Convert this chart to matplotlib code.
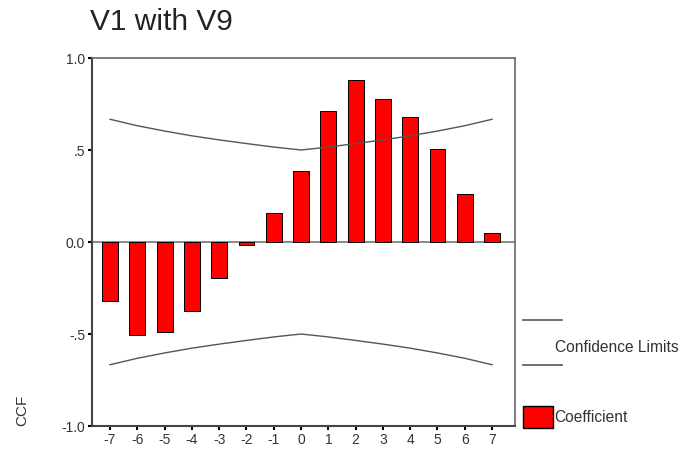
import matplotlib.pyplot as plt
from matplotlib.lines import Line2D
from matplotlib.patches import Rectangle

plt.rcParams['font.family'] = ['Liberation Sans', 'DejaVu Sans']

# lags and cross-correlation coefficients
lags = [-7, -6, -5, -4, -3, -2, -1, 0, 1, 2, 3, 4, 5, 6, 7]
coef = [-0.32, -0.505, -0.49, -0.373, -0.196, -0.015, 0.16, 0.385,
        0.71, 0.88, 0.775, 0.678, 0.507, 0.26, 0.05]
upper = [0.667, 0.632, 0.603, 0.577, 0.555, 0.535, 0.516, 0.5,
         0.516, 0.535, 0.555, 0.577, 0.603, 0.632, 0.667]
lower = [-u for u in upper]
yticks = [-1.0, -0.5, 0.0, 0.5, 1.0]
ylabels = ["-1.0", "-.5", "0.0", ".5", "1.0"]

W, H = 683, 451
fig = plt.figure(figsize=(W / 100, H / 100), dpi=100)
ax = fig.add_axes([92 / W, 25 / H, 423 / W, 368 / H])

ax.bar(lags, coef, width=0.58, color="#ff0000", edgecolor="black", linewidth=0.7, zorder=3)
ax.plot(lags, upper, color="#555555", lw=1.0, zorder=4)
ax.plot(lags, lower, color="#555555", lw=1.0, zorder=4)
ax.axhline(0, color="#777777", lw=1.2, zorder=2)

ax.set_xlim(-7.66, 7.84)
ax.set_ylim(-1.0, 1.0)
ax.set_xticks(lags)
ax.set_xticklabels([str(l) for l in lags])
ax.set_yticks(yticks)
ax.set_yticklabels(ylabels)
ax.tick_params(direction="out", length=3, width=1.5, labelsize=10, colors="black", pad=2)
for lab in ax.get_xticklabels() + ax.get_yticklabels():
    lab.set_color("#333333")
for side in ["left", "bottom"]:
    ax.spines[side].set_color("#444444")
    ax.spines[side].set_linewidth(1.5)
for side in ["top", "right"]:
    ax.spines[side].set_color("#666666")
    ax.spines[side].set_linewidth(1.2)

fig.text(90 / W, 1 - 22 / H, "V1 with V9", fontsize=21.5, color="#222222", va="center", ha="left")
fig.text(22 / W, 1 - 410 / H, "CCF", rotation=90, fontsize=11, color="#333333", va="center", ha="center")

# legend drawn by hand outside the axes
fig.add_artist(Line2D([523 / W, 562 / W], [1 - 320 / H, 1 - 320 / H], color="#555555", lw=1.2))
fig.add_artist(Line2D([523 / W, 562 / W], [1 - 365 / H, 1 - 365 / H], color="#555555", lw=1.2))
fig.text(555 / W, 1 - 347 / H, "Confidence Limits", fontsize=11.2, color="#333333", va="center", ha="left")
fig.add_artist(Rectangle((523 / W, 1 - 428 / H), 30 / W, 22 / H, facecolor="#ff0000",
                         edgecolor="black", lw=1.0, transform=fig.transFigure))
fig.text(554 / W, 1 - 417 / H, "Coefficient", fontsize=11.2, color="#333333", va="center", ha="left")

fig.savefig("out.png", dpi=100)
